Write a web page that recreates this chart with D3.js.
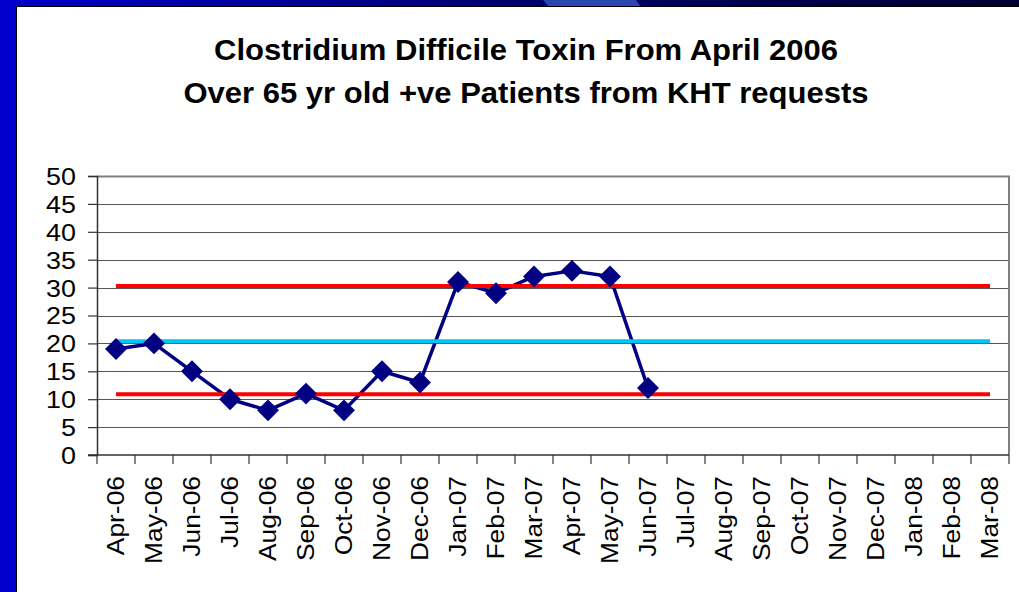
<!DOCTYPE html>
<html>
<head>
<meta charset="utf-8">
<script src="https://cdn.jsdelivr.net/npm/d3@7"></script>
<style>
  html, body { margin: 0; padding: 0; background: #fff; }
  svg { display: block; }
  text { font-family: "Liberation Sans", Arial, sans-serif; fill: #000; }
</style>
</head>
<body>
<svg id="chart" width="1019" height="592"></svg>
<script>
// chart data
const months = ['Apr-06','May-06','Jun-06','Jul-06','Aug-06','Sep-06','Oct-06','Nov-06','Dec-06',
  'Jan-07','Feb-07','Mar-07','Apr-07','May-07','Jun-07','Jul-07','Aug-07','Sep-07','Oct-07',
  'Nov-07','Dec-07','Jan-08','Feb-08','Mar-08'];
const positives = [19, 20, 15, 10, 8, 11, 8, 15, 13, 31, 29, 32, 33, 32, 12];
const upperLimit = 30.3;
const meanLine = 20.4;
const lowerLimit = 10.9;
const yTicks = [0, 5, 10, 15, 20, 25, 30, 35, 40, 45, 50];
const titleLines = ['Clostridium Difficile Toxin From April 2006',
  'Over 65 yr old +ve Patients from KHT requests'];

const svg = d3.select('#chart');
const W = 1019, H = 592;
const plot = { left: 97, right: 1009, top: 176, bottom: 455 };

// slide frame
const defs = svg.append('defs');
const grad = defs.append('linearGradient').attr('id', 'topbar');
grad.append('stop').attr('offset', '0%').attr('stop-color', '#0000cc');
grad.append('stop').attr('offset', '55%').attr('stop-color', '#000066');
grad.append('stop').attr('offset', '100%').attr('stop-color', '#000033');

svg.append('rect').attr('width', W).attr('height', H).attr('fill', '#fff');
svg.append('rect').attr('x', 0).attr('y', 0).attr('width', W).attr('height', 7).attr('fill', 'url(#topbar)');
svg.append('path').attr('d', 'M543,0 L636,0 L641,7 L549,7 Z').attr('fill', '#2a46b0');
svg.append('rect').attr('x', 0).attr('y', 0).attr('width', 16).attr('height', H).attr('fill', '#0000cc');
svg.append('path').attr('d', `M16.5,${H} L16.5,6.5 L${W},6.5`)
  .attr('fill', 'none').attr('stroke', '#000').attr('stroke-width', 1);

// title
svg.append('g').selectAll('text')
  .data(titleLines)
  .enter()
  .append('text')
  .attr('x', 526)
  .attr('y', (d, i) => 60 + i * 43)
  .attr('text-anchor', 'middle')
  .attr('font-weight', 'bold')
  .attr('font-size', 29)
  .attr('transform', 'translate(526,0) scale(1.07,1) translate(-526,0)')
  .text(d => d);

// scales
const x = d3.scaleBand().domain(months).range([plot.left, plot.right]).paddingInner(0).paddingOuter(0);
const y = d3.scaleLinear().domain([0, 50]).range([plot.bottom, plot.top]);
const cx = d => x(d) + x.bandwidth() / 2;

// gridlines
svg.append('g')
  .selectAll('line')
  .data(yTicks.filter(v => v > 0 && v < 50))
  .enter()
  .append('line')
  .attr('x1', plot.left).attr('x2', plot.right)
  .attr('y1', d => Math.round(y(d)) + 0.5).attr('y2', d => Math.round(y(d)) + 0.5)
  .attr('stroke', '#555').attr('stroke-width', 1.2);

// plot border (top and right)
svg.append('path')
  .attr('d', `M${plot.left},${plot.top + 0.5} L${plot.right},${plot.top + 0.5} L${plot.right},${plot.bottom}`)
  .attr('fill', 'none').attr('stroke', '#808080').attr('stroke-width', 2);

// y axis
const yAxis = svg.append('g')
  .attr('transform', `translate(${plot.left},0)`)
  .call(d3.axisLeft(y).tickValues(yTicks).tickSize(9).tickPadding(0).tickFormat(d3.format('d')));
yAxis.select('.domain').attr('stroke', '#333').attr('stroke-width', 1.5);
yAxis.selectAll('.tick line').attr('stroke', '#333').attr('stroke-width', 1.2);
yAxis.selectAll('.tick text')
  .attr('font-size', 24)
  .attr('font-family', '"Liberation Sans", Arial, sans-serif')
  .attr('fill', '#000')
  .attr('dy', '0.35em')
  .attr('x', null)
  .attr('transform', 'translate(-21,0) scale(1.12,1)');

// x axis: ticks between categories, labels at centres
const xAxis = svg.append('g')
  .attr('transform', `translate(0,${plot.bottom})`)
  .call(d3.axisBottom(x).tickSize(0).tickPadding(0));
xAxis.select('.domain').remove();
xAxis.selectAll('.tick text')
  .attr('font-size', 24)
  .attr('font-family', '"Liberation Sans", Arial, sans-serif')
  .attr('fill', '#000')
  .attr('text-anchor', 'end')
  .attr('y', null)
  .attr('dy', '0.35em')
  .attr('transform', 'translate(0,21) rotate(-90) scale(1.1,1)');

const boundaries = months.map(m => x(m)).concat([plot.right]);
svg.append('g')
  .selectAll('line')
  .data(boundaries)
  .enter()
  .append('line')
  .attr('x1', d => d).attr('x2', d => d)
  .attr('y1', plot.bottom).attr('y2', plot.bottom + 9)
  .attr('stroke', '#333').attr('stroke-width', 1.2);
svg.append('line')
  .attr('x1', plot.left - 9).attr('x2', plot.right)
  .attr('y1', plot.bottom).attr('y2', plot.bottom)
  .attr('stroke', '#333').attr('stroke-width', 1.5);

// series lines
const line = d3.line().x(d => cx(d.m)).y(d => y(d.v));
const dataPts = positives.map((v, i) => ({ m: months[i], v }));
const flat = val => months.map(m => ({ m, v: val }));

svg.append('path').datum(dataPts).attr('d', line)
  .attr('fill', 'none').attr('stroke', '#000080').attr('stroke-width', 3.5).attr('stroke-linejoin', 'round');
svg.append('path').datum(flat(upperLimit)).attr('d', line)
  .attr('fill', 'none').attr('stroke', '#ff0000').attr('stroke-width', 4);
svg.append('path').datum(flat(meanLine)).attr('d', line)
  .attr('fill', 'none').attr('stroke', '#00c4f4').attr('stroke-width', 4);
svg.append('path').datum(flat(lowerLimit)).attr('d', line)
  .attr('fill', 'none').attr('stroke', '#ff0000').attr('stroke-width', 4);

// diamond markers on top
const diamond = d3.symbol().type(d3.symbolSquare).size(240);
svg.append('g')
  .selectAll('path')
  .data(dataPts)
  .enter()
  .append('path')
  .attr('d', diamond)
  .attr('transform', d => `translate(${cx(d.m)},${y(d.v)}) rotate(45)`)
  .attr('fill', '#000080');
</script>
</body>
</html>
